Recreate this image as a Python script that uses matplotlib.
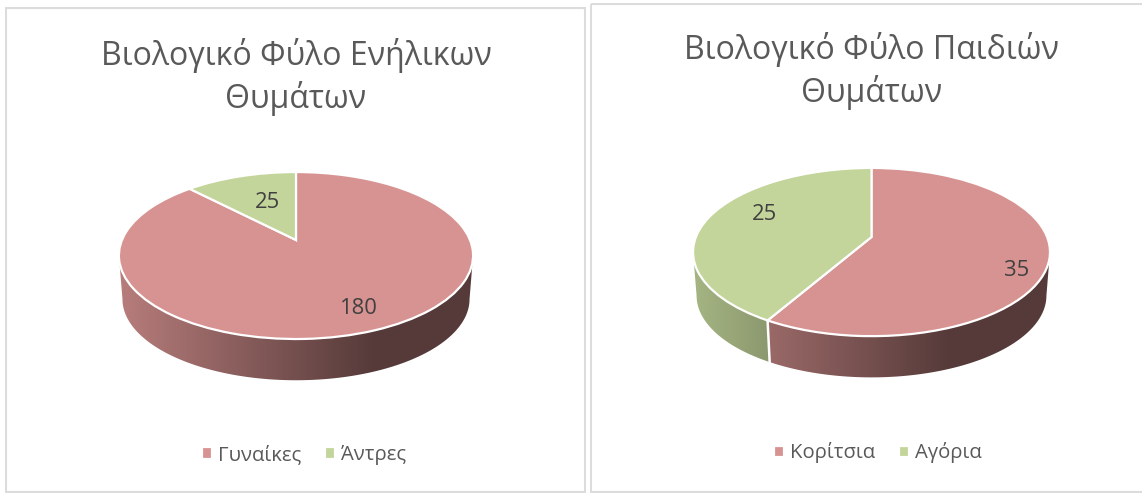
import numpy as np
import matplotlib
matplotlib.use("Agg")
import matplotlib.pyplot as plt
from matplotlib.patches import Polygon, Rectangle
from matplotlib.transforms import Transform

plt.rcParams["font.family"] = ["Open Sans", "Noto Sans", "DejaVu Sans"]

# Data
adult_titles = "Βιολογικό Φύλο Ενήλικων\nΘυμάτων"
adult_labels = ["Γυναίκες", "Άντρες"]
adult_values = [180, 25]

child_titles = "Βιολογικό Φύλο Παιδιών\nΘυμάτων"
child_labels = ["Κορίτσια", "Αγόρια"]
child_values = [35, 25]

colors = ["#d79391", "#c3d59a"]
GREY = "#595959"
W, H = 1142, 493


class Tilt(Transform):
    """Perspective view of the unit circle, output in image pixels."""
    input_dims = 2
    output_dims = 2
    is_separable = False
    has_inverse = False

    def __init__(self, cx, cy, a, b, k):
        super().__init__()
        self.p = (cx, cy, a, b, k)

    def transform_non_affine(self, values):
        cx, cy, a, b, k = self.p
        values = np.asarray(values, dtype=float)
        den = 1 + k * values[:, 1]
        return np.column_stack([cx + a * values[:, 0] / den,
                                cy - b * values[:, 1] / den])


def draw_card(rect, title, title_y, labels, values, pie, depth, value_pos, legend_xy):
    x0, y0, x1, y1 = rect
    ax = fig.add_axes([x0 / W, 1 - y1 / H, (x1 - x0) / W, (y1 - y0) / H])
    cx, cy, a, b, k = pie
    tilt = Tilt(cx, cy, a, b, k)
    low = Tilt(cx, cy + depth, a * 0.98, b * 0.972, k)

    # side wall, one gradient per slice
    xl, xd = cx - a * 1.016, cx + 76
    edges = np.cumsum([0] + list(values)) / sum(values) * 2 * np.pi
    limit = np.arccos(-k)
    for i, col in enumerate(colors):
        t0, t1 = max(edges[i], limit), min(edges[i + 1], 2 * np.pi - limit)
        if t0 >= t1:
            continue
        t = np.linspace(t0, t1, 120)
        rim = np.column_stack([np.sin(t), np.cos(t)])
        outline = np.vstack([tilt.transform_non_affine(rim),
                             low.transform_non_affine(rim)[::-1]])
        rgb = np.array(matplotlib.colors.to_rgb(col))
        xs = np.linspace(cx - a * 1.02, cx + a * 1.02, 512)
        shade = 0.85 - 0.45 * np.clip((xs - xl) / (xd - xl), 0, 1)
        img = ax.imshow((shade[:, None] * rgb)[None, :, :], aspect="auto",
                        extent=(xs[0], xs[-1], y1, y0), zorder=1)
        img.set_clip_path(Polygon(outline, transform=ax.transData))
    for t in edges[1:]:
        if limit < t % (2 * np.pi) < 2 * np.pi - limit:
            p = np.array([[np.sin(t), np.cos(t)]])
            q = np.vstack([tilt.transform_non_affine(p), low.transform_non_affine(p)])
            ax.plot(q[:, 0], q[:, 1], color="white", lw=1.8, zorder=2)

    # top face
    wedges, _ = ax.pie(values, colors=colors, startangle=90, counterclock=False,
                       wedgeprops=dict(edgecolor="white", linewidth=1.6, zorder=3))
    for w in wedges:
        w.set_transform(tilt + ax.transData)
        w.set_clip_on(False)

    ax.set_aspect("auto")
    ax.set_xlim(x0, x1)
    ax.set_ylim(y1, y0)
    ax.set_axis_off()
    ax.add_patch(Rectangle((x0 + 1, y0 + 1), x1 - x0 - 2, y1 - y0 - 2, fill=False,
                           edgecolor="#dcdcdc", linewidth=1.5, zorder=0))

    ax.text(cx, title_y, title, ha="center", va="center", color=GREY,
            fontsize=23, linespacing=1.27)
    for v, (tx, ty) in zip(values, value_pos):
        ax.text(tx, ty, str(v), ha="center", va="center", color="#404040",
                fontsize=15.8, zorder=5)
    ax.legend(wedges, labels, loc="center", bbox_to_anchor=legend_xy,
              bbox_transform=ax.transData, ncol=2, frameon=False, fontsize=14.6,
              labelcolor=GREY, handlelength=0.5, handleheight=0.5,
              handletextpad=0.3, columnspacing=1.15)


fig = plt.figure(figsize=(W / 100, H / 100), dpi=100)

draw_card((5, 7, 586, 493), adult_titles, 77, adult_labels, adult_values,
          (296, 240, 174, 80.6, 0.186), 44, [(358, 308), (268, 202)], (304, 455))
draw_card((590, 3, 1152, 493), child_titles, 71, child_labels, child_values,
          (871.5, 237, 175.6, 81.4, 0.179), 44, [(1017, 271), (764, 215)], (878, 453))

plt.savefig("out.png", dpi=100)
